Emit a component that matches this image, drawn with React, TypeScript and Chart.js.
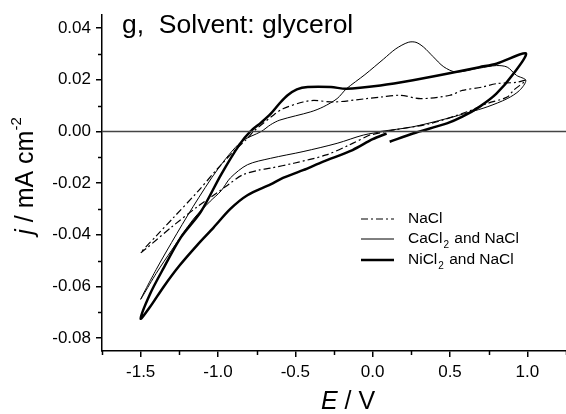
import React, { useEffect, useRef } from "react";
import { Chart, registerables } from "chart.js";
Chart.register(...registerables);

const xMajor = [-1.5, -1.0, -0.5, 0.0, 0.5, 1.0];
const xMinor = [-1.75, -1.25, -0.75, -0.25, 0.25, 0.75, 1.25];
const yMajor = [-0.08, -0.06, -0.04, -0.02, 0.0, 0.02, 0.04];
const yMinor = [-0.07, -0.05, -0.03, -0.01, 0.01, 0.03];

const seriesNames = ["NaCl", "CaCl", "NiCl"];

// NaCl (dash-dot)
const naclE = [-0.02, -0.15, -0.3, -0.51, -0.66, -0.73, -0.84, -0.92, -1.0, -1.13, -1.3, -1.5,
  -1.4, -1.29, -1.13, -1.0, -0.9, -0.81, -0.77, -0.64, -0.58, -0.45, -0.38, -0.25, -0.04, 0.05, 0.18, 0.31, 0.5, 0.58, 0.71, 0.8, 0.93, 0.99,
  0.91, 0.87, 0.74, 0.61, 0.37, 0.13, -0.02];
const naclJ = [-0.0014, -0.0052, -0.0091, -0.0123, -0.0142, -0.0149, -0.0168, -0.02, -0.0235, -0.029, -0.037, -0.047,
  -0.0405, -0.0335, -0.0232, -0.0142, -0.0078, -0.0027, 0.0, 0.0064, 0.0088, 0.0114, 0.012, 0.0114, 0.0127, 0.0133, 0.014, 0.0127, 0.014, 0.0159, 0.0172, 0.0185, 0.019, 0.0198,
  0.0159, 0.0133, 0.0108, 0.0076, 0.003, 0.0005, -0.0014];

// CaCl2 and NaCl (thin)
const caE = [0.07, -0.06, -0.23, -0.45, -0.66, -0.81, -0.92, -0.98, -1.05, -1.16, -1.3, -1.4, -1.5,
  -1.4, -1.3, -1.16, -1.0, -0.85, -0.72, -0.66, -0.6, -0.4, -0.32, -0.23, -0.17, -0.05, 0.07, 0.15, 0.23, 0.28, 0.33, 0.39, 0.46, 0.54, 0.69, 0.8, 0.87, 0.93, 0.99,
  0.95, 0.87, 0.74, 0.63, 0.48, 0.26, 0.05];
const caJ = [0.0, -0.0014, -0.0046, -0.0078, -0.0104, -0.0129, -0.018, -0.023, -0.027, -0.034, -0.046, -0.055, -0.065,
  -0.0535, -0.043, -0.029, -0.0145, -0.004, 0.0, 0.0026, 0.0044, 0.0076, 0.0095, 0.0127, 0.0165, 0.022, 0.028, 0.032, 0.0345, 0.0345, 0.0326, 0.029, 0.025, 0.023, 0.0245, 0.0255, 0.0249, 0.0217, 0.0198,
  0.0159, 0.0127, 0.0095, 0.0075, 0.005, 0.0018, 0.0];

// NiCl2 and NaCl (thick)
const niE = [0.09, 0.0, -0.13, -0.32, -0.45, -0.58, -0.66, -0.81, -0.92, -1.03, -1.13, -1.25, -1.35, -1.44, -1.5,
  -1.44, -1.35, -1.24, -1.11, -0.98, -0.86, -0.79, -0.72, -0.66, -0.6, -0.55, -0.49, -0.42, -0.27, -0.17, 0.05, 0.26, 0.48, 0.69, 0.8, 0.99,
  0.91, 0.8, 0.69, 0.58, 0.48, 0.26, 0.11];
const niJ = [-0.0008, -0.003, -0.0072, -0.0117, -0.015, -0.018, -0.0205, -0.0247, -0.03, -0.0373, -0.0437, -0.052, -0.06, -0.068, -0.0725,
  -0.063, -0.0527, -0.041, -0.031, -0.0167, -0.005, 0.0, 0.0035, 0.0068, 0.011, 0.014, 0.0163, 0.0172, 0.0172, 0.0165, 0.0178, 0.0198, 0.0223, 0.0249, 0.0262, 0.0302,
  0.0223, 0.0146, 0.0095, 0.0057, 0.0031, -0.0008, -0.004];

const zeroE = [-1.75, 1.25];
const zeroJ = [0, 0];

const FONT = "Arial, 'Liberation Sans', sans-serif";

const toPts = (xs: number[], ys: number[]) => xs.map((x, i) => ({ x, y: ys[i] }));

export default function App() {
  const ref = useRef<HTMLCanvasElement>(null);
  useEffect(() => {
    if (!ref.current) return;
    const extras = {
      id: "extras",
      afterDraw(chart: any) {
        const ctx = chart.ctx;
        const xs = chart.scales.x;
        const ys = chart.scales.y;
        const ca = chart.chartArea;
        ctx.save();
        ctx.strokeStyle = "#000";
        ctx.lineWidth = 1.5;
        xMinor.forEach((v) => {
          const p = Math.round(xs.getPixelForValue(v)) + 0.5;
          ctx.beginPath();
          ctx.moveTo(p, ca.bottom);
          ctx.lineTo(p, ca.bottom + 4);
          ctx.stroke();
        });
        yMinor.forEach((v) => {
          const p = Math.round(ys.getPixelForValue(v)) + 0.5;
          ctx.beginPath();
          ctx.moveTo(ca.left, p);
          ctx.lineTo(ca.left - 4, p);
          ctx.stroke();
        });
        // title
        ctx.fillStyle = "#000";
        ctx.font = `26.5px ${FONT}`;
        ctx.textBaseline = "alphabetic";
        ctx.textAlign = "left";
        ctx.fillText("g,  Solvent: glycerol", 122, 33);
        // x axis title
        const partsX = [
          { t: "E", f: `italic 25px ${FONT}` },
          { t: " / V", f: `25px ${FONT}` },
        ];
        let w = 0;
        partsX.forEach((p) => { ctx.font = p.f; w += ctx.measureText(p.t).width; });
        let cx = 348 - w / 2;
        partsX.forEach((p) => { ctx.font = p.f; ctx.fillText(p.t, cx, 409); cx += ctx.measureText(p.t).width; });
        // y axis title
        ctx.save();
        ctx.translate(33, 176);
        ctx.rotate(-Math.PI / 2);
        const partsY = [
          { t: "j", f: `italic 25px ${FONT}`, dy: 0 },
          { t: " / mA cm", f: `25px ${FONT}`, dy: 0 },
          { t: "-2", f: `15px ${FONT}`, dy: -12 },
        ];
        w = 0;
        partsY.forEach((p) => { ctx.font = p.f; w += ctx.measureText(p.t).width; });
        cx = -w / 2;
        partsY.forEach((p) => { ctx.font = p.f; ctx.fillText(p.t, cx, p.dy); cx += ctx.measureText(p.t).width; });
        ctx.restore();
        // legend
        const rows = [
          { y: 219, dash: [7, 3, 2, 3], lw: 1.2, name: seriesNames[0], sub: "", rest: "" },
          { y: 239, dash: [], lw: 1, name: seriesNames[1], sub: "2", rest: " and NaCl" },
          { y: 260, dash: [], lw: 2.5, name: seriesNames[2], sub: "2", rest: " and NaCl" },
        ];
        rows.forEach((r) => {
          ctx.setLineDash(r.dash);
          ctx.lineWidth = r.lw;
          ctx.beginPath();
          ctx.moveTo(361, r.y);
          ctx.lineTo(394, r.y);
          ctx.stroke();
          ctx.setLineDash([]);
          ctx.textBaseline = "middle";
          ctx.font = `15.5px ${FONT}`;
          let tx = 408;
          ctx.fillText(r.name, tx, r.y);
          tx += ctx.measureText(r.name).width + 1;
          if (r.sub) {
            ctx.font = `10px ${FONT}`;
            ctx.fillText(r.sub, tx, r.y + 6);
            tx += ctx.measureText(r.sub).width + 1;
            ctx.font = `15.5px ${FONT}`;
            ctx.fillText(r.rest, tx, r.y);
          }
        });
        ctx.restore();
      },
    };
    const chart = new Chart(ref.current, {
      type: "scatter",
      data: {
        datasets: [
          { data: toPts(zeroE, zeroJ), showLine: true, borderColor: "#444", borderWidth: 1.5, pointRadius: 0, tension: 0 },
          { data: toPts(naclE, naclJ), showLine: true, borderColor: "#000", borderWidth: 1.2, borderDash: [7, 3, 2, 3], pointRadius: 0, tension: 0.3 },
          { data: toPts(caE, caJ), showLine: true, borderColor: "#000", borderWidth: 1, pointRadius: 0, tension: 0.3 },
          { data: toPts(niE, niJ), showLine: true, borderColor: "#000", borderWidth: 2.5, pointRadius: 0, tension: 0.3 },
        ],
      },
      options: {
        responsive: false,
        animation: false,
        layout: { padding: { left: 0, top: 13, right: 0, bottom: 0 } },
        plugins: { legend: { display: false }, tooltip: { enabled: false }, title: { display: false } },
        scales: {
          x: {
            type: "linear",
            min: -1.75,
            max: 1.25,
            afterBuildTicks: (s: any) => { s.ticks = xMajor.map((v) => ({ value: v })); },
            afterFit: (s: any) => { s.height = 63; },
            grid: { drawOnChartArea: false, drawTicks: true, tickLength: 6, color: "#000", lineWidth: 1.5 },
            border: { display: true, color: "#000", width: 1.5 },
            ticks: { color: "#000", font: { size: 17, family: FONT }, padding: 5, maxRotation: 0, callback: (v: any) => Number(v).toFixed(1) },
          },
          y: {
            type: "linear",
            min: -0.085,
            max: 0.045,
            afterBuildTicks: (s: any) => { s.ticks = yMajor.map((v) => ({ value: v })); },
            afterFit: (s: any) => { s.width = 102; },
            grid: { drawOnChartArea: false, drawTicks: true, tickLength: 6, color: "#000", lineWidth: 1.5 },
            border: { display: true, color: "#000", width: 1.5 },
            ticks: { color: "#000", font: { size: 17, family: FONT }, padding: 5, callback: (v: any) => Number(v).toFixed(2) },
          },
        },
      },
      plugins: [extras],
    } as any);
    return () => chart.destroy();
  }, []);
  return (
    <div style={{ position: "absolute", left: 0, top: 0, width: 566, height: 414, background: "#fff" }}>
      <canvas ref={ref} width={566} height={414} />
    </div>
  );
}
